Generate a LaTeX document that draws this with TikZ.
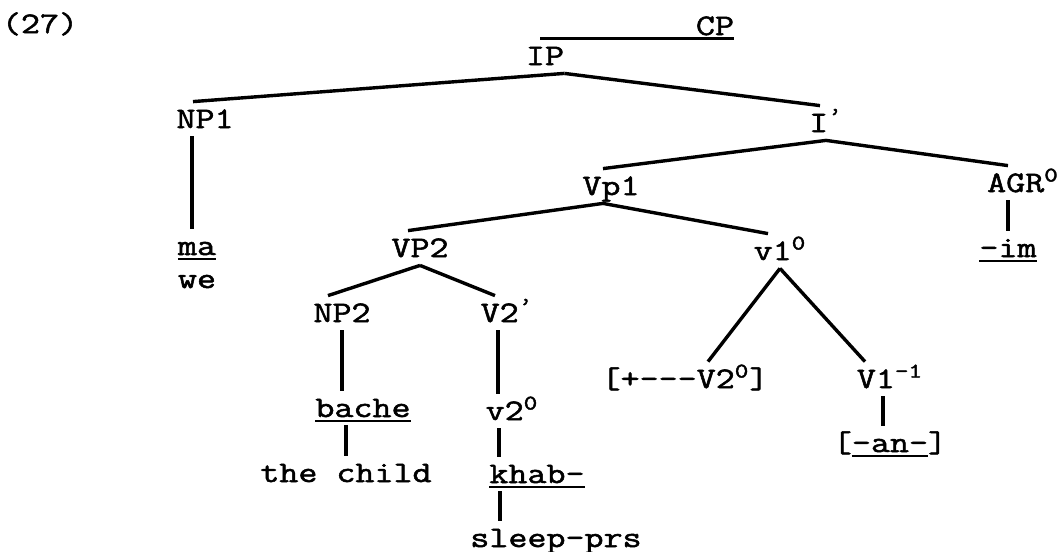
\documentclass[tikz,border=0pt]{standalone}
\usepackage{fontspec}
\newfontfamily\typewriter{Latin Modern Mono}[FakeStretch=1.24, FakeBold=1.8]
\usepackage{tikz}
\usetikzlibrary{positioning}
\newcommand{\undl}[1]{\vtop{\hbox{#1}\kern1.5pt\hrule height 1pt}}

\begin{document}
\begin{tikzpicture}[
    on grid,
    cat/.style={font=\typewriter\fontsize{14.9}{18}\selectfont, inner xsep=0pt, inner ysep=1pt, text height=12pt, text depth=3pt},
    branch/.style={line width=1.7pt},
]
    \useasboundingbox (0,0) rectangle (528.5pt,-276pt);

    % Example number
    \node[cat] (num) at (20pt,-12pt) {(27)};

    % Top of the tree
    \node[cat] (ip) at (272.5pt,-28pt) {IP};
    \node[cat, above right=15pt and 85pt of ip] (cp) {CP};

    % Subject
    \node[cat, below left=31.5pt and 170pt of ip] (np1) {NP1};
    \node[cat, below left=63.5pt and 4pt of np1] (ma) {\undl{ma}};
    \node[cat, below=16.5pt of ma] (we) {we};

    % I-bar and agreement
    \node[cat, below right=33.5pt and 140.5pt of ip] (ibar) {I\textsuperscript{’}};
    \node[cat, below right=30pt and 98.5pt of ibar] (agr) {AGR\textsuperscript{0}};
    \node[cat, below left=32.5pt and 7.5pt of agr] (im) {\undl{-im}};

    % Vp1
    \node[cat, below left=31.5pt and 107.5pt of ibar] (vp1) {Vp1};
    \node[cat, below left=31pt and 95.5pt of vp1] (vp2) {VP2};
    \node[cat, below right=32.5pt and 84.5pt of vp1] (v1) {v1\textsuperscript{0}};

    % VP2
    \node[cat, below left=32.5pt and 39pt of vp2] (np2) {NP2};
    \node[cat, below right=32.5pt and 43.5pt of vp2] (v2bar) {V2\textsuperscript{’}};
    \node[cat, below right=47.5pt and 10.5pt of np2] (bache) {\undl{bache}};
    \node[cat, below left=32.5pt and 8.5pt of bache] (child) {the child};
    \node[cat, below right=49pt and 2.5pt of v2bar] (v2) {v2\textsuperscript{0}};
    \node[cat, below right=31.5pt and 12.5pt of v2] (khab) {\undl{khab-}};
    \node[cat, below right=32pt and 9.5pt of khab] (sleep) {sleep-prs};

    % v1
    \node[cat, below left=64pt and 47.5pt of v1] (feat) {[+---V2\textsuperscript{0}]};
    \node[cat, below right=64pt and 55pt of v1] (vm) {V1\textsuperscript{-1}};
    \node[cat, below=32pt of vm] (an) {[\undl{-an-}]};

    % Branches
    \draw[branch] ([xshift=-2.5pt]ip.north) -- (cp.east |- ip.north);
    \draw[branch] (ip.south east) -- ([xshift=-6pt]np1.north);
    \draw[branch] (ip.south east) -- ([xshift=-3pt]ibar.north);
    \draw[branch] ([xshift=-6.5pt]np1.south) -- ([xshift=-6.5pt]np1.south |- ma.north);

    \draw[branch] (ibar.south) -- ([xshift=-4pt]vp1.north);
    \draw[branch] (ibar.south) -- ([xshift=-7.5pt]agr.north);
    \draw[branch] (im.north |- agr.south) -- (im.north);

    \draw[branch] ([xshift=-4pt]vp1.south) -- ([xshift=-6pt]vp2.north);
    \draw[branch] ([xshift=-4pt]vp1.south) -- ([xshift=-6pt]v1.north);

    \draw[branch] (vp2.south) -- ([xshift=-7pt]np2.north);
    \draw[branch] (vp2.south) -- ([xshift=-6pt]v2bar.north);
    \draw[branch] (np2.south) -- (np2.south |- bache.north);
    \draw[branch] (child.north |- bache.south) -- (child.north);
    \draw[branch] ([xshift=-4.5pt]v2bar.south) -- ([xshift=-4.5pt]v2bar.south |- v2.north);
    \draw[branch] ([xshift=-6.5pt]v2.south) -- ([xshift=-6.5pt]v2.south |- khab.north);
    \draw[branch] ([xshift=-18.5pt]khab.south) -- ([xshift=-18.5pt]khab.south |- sleep.north);

    \draw[branch] (v1.south) -- ([xshift=11.5pt]feat.north);
    \draw[branch] (v1.south) -- ([xshift=-12.5pt]vm.north);
    \draw[branch] ([xshift=-3.5pt]vm.south) -- ([xshift=-3.5pt]vm.south |- an.north);

\end{tikzpicture}
\end{document}
